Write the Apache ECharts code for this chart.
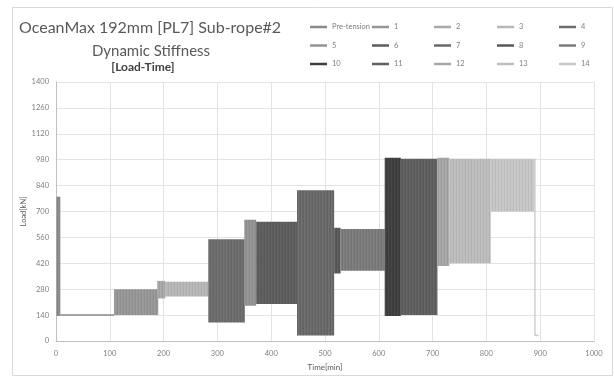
<!DOCTYPE html>
<html>
<head>
<meta charset="utf-8">
<script src="https://cdn.jsdelivr.net/npm/echarts@6/dist/echarts.min.js"></script>
<style>
  html, body { margin: 0; padding: 0; background: #fff; }
  #chart { width: 614px; height: 378px; }
</style>
</head>
<body>
<div id="chart"></div>
<script>
// series names (legend order)
const seriesNames = ['Pre-tension', '1', '2', '3', '4', '5', '6', '7', '8', '9', '10', '11', '12', '13', '14'];

// load blocks: which series, time span [min], load band [kN]
const segSeries = ['Pre-tension', 'Pre-tension', '1', '2', '3', '4', '5', '6', '7', '8', '9', '10', '11', '12', '13', '14', '14', '14'];
const segStart = [1, 8, 108, 188, 203, 283, 350, 372, 448, 517, 529, 611, 641, 709, 731, 808, 889, 890];
const segEnd = [8, 108, 190, 203, 283, 351, 372, 448, 517, 529, 611, 641, 709, 731, 808, 889, 890, 897];
const segMin = [135, 140, 140, 230, 240, 100, 190, 200, 30, 365, 380, 135, 140, 405, 420, 700, 30, 30];
const segMax = [780, 140, 280, 325, 320, 550, 655, 645, 815, 612, 605, 990, 985, 990, 985, 985, 985, 30];

// axis ticks
const xTicks = [0, 100, 200, 300, 400, 500, 600, 700, 800, 900, 1000];
const yTicks = [0, 140, 280, 420, 560, 700, 840, 980, 1120, 1260, 1400];

// grey shades per series
const palette = ['#8a8a8a', '#979797', '#a9a9a9', '#b7b7b7', '#6c6c6c', '#949494', '#5d5d5d', '#696969',
  '#585858', '#7b7b7b', '#3e3e3e', '#5f5f5f', '#a6a6a6', '#bdbdbd', '#c7c7c7'];

// legend is laid out in 5 columns of 3 rows
const legendCols = [
  ['Pre-tension', '5', '10'],
  ['1', '6', '11'],
  ['2', '7', '12'],
  ['3', '8', '13'],
  ['4', '9', '14']
];
const legendLeft = [305, 367, 429, 492, 554];

// fine vertical striation to mimic the dense load cycles
const stripe = document.createElement('canvas');
stripe.width = 3;
stripe.height = 1;
(function () {
  const c = stripe.getContext('2d');
  const cols = ['rgba(0,0,0,0.06)', 'rgba(255,255,255,0.05)', 'rgba(0,0,0,0)'];
  cols.forEach((col, i) => { c.fillStyle = col; c.fillRect(i, 0, 1, 1); });
})();

function renderItem(params, api) {
  const p0 = api.coord([api.value(0), api.value(3)]);
  const p1 = api.coord([api.value(1), api.value(2)]);
  const w = Math.max(p1[0] - p0[0], 1.3);
  const h = Math.max(p1[1] - p0[1], 1.5);
  const shape = { x: p0[0], y: p0[1] - (h < 2 ? 0.75 : 0), width: w, height: h };
  const children = [{ type: 'rect', shape: shape, style: { fill: api.visual('color') } }];
  if (h > 3 && w > 3) {
    children.push({ type: 'rect', shape: shape, style: { fill: { image: stripe, repeat: 'repeat' } } });
  }
  return { type: 'group', children: children };
}

const series = seriesNames.map((name, i) => {
  const data = [];
  for (let k = 0; k < segSeries.length; k++) {
    if (segSeries[k] === name) data.push([segStart[k], segEnd[k], segMin[k], segMax[k]]);
  }
  return {
    name: name,
    type: 'custom',
    renderItem: renderItem,
    encode: { x: [0, 1], y: [2, 3] },
    itemStyle: { color: palette[i] },
    data: data,
    silent: true
  };
});

const font = 'Lato, "Liberation Sans", sans-serif';
const plain = (v) => String(v);

const chart = echarts.init(document.getElementById('chart'), null, { renderer: 'canvas' });
chart.setOption({
  animation: false,
  textStyle: { fontFamily: font },
  title: [
    { text: 'OceanMax 192mm [PL7] Sub-rope#2', left: 14, top: 15,
      textStyle: { fontSize: 16, fontWeight: 'normal', color: '#595959', fontFamily: font } },
    { text: 'Dynamic Stiffness', left: 146, top: 39, textAlign: 'center',
      textStyle: { fontSize: 15, fontWeight: 'normal', color: '#595959', fontFamily: font } },
    { text: '[Load-Time]', left: 138, top: 56, textAlign: 'center',
      textStyle: { fontSize: 12, fontWeight: 'bold', color: '#404040', fontFamily: font } }
  ],
  graphic: [{
    type: 'rect', silent: true,
    shape: { x: 12.5, y: 7.5, width: 600, height: 368 },
    style: { fill: 'none', stroke: '#d9d9d9', lineWidth: 1 }
  }],
  legend: legendCols.map((col, i) => ({
    data: col,
    orient: 'vertical',
    left: legendLeft[i],
    top: 17,
    itemGap: 8.5,
    itemWidth: 17,
    itemHeight: 2.5,
    icon: 'rect',
    selectedMode: false,
    textStyle: { fontSize: 7.5, lineHeight: 10, color: '#7f7f7f', fontFamily: font }
  })),
  grid: { left: 56, right: 20, top: 82, bottom: 37 },
  xAxis: {
    type: 'value',
    min: xTicks[0],
    max: xTicks[xTicks.length - 1],
    interval: xTicks[1] - xTicks[0],
    name: 'Time[min]',
    nameLocation: 'middle',
    nameGap: 22,
    nameTextStyle: { fontSize: 8, color: '#595959' },
    axisLine: { lineStyle: { color: '#bfbfbf' } },
    axisTick: { show: false },
    axisLabel: { fontSize: 7.5, color: '#7f7f7f', margin: 9, formatter: plain },
    splitLine: { show: true, lineStyle: { color: '#e3e3e3' } }
  },
  yAxis: {
    type: 'value',
    min: yTicks[0],
    max: yTicks[yTicks.length - 1],
    interval: yTicks[1] - yTicks[0],
    name: 'Load[kN]',
    nameLocation: 'middle',
    nameGap: 28,
    nameMoveOverlap: false,
    nameTextStyle: { fontSize: 7.5, color: '#595959' },
    axisLine: { show: true, lineStyle: { color: '#bfbfbf' } },
    axisTick: { show: false },
    axisLabel: { fontSize: 7.5, color: '#7f7f7f', margin: 7, formatter: plain },
    splitLine: { show: true, lineStyle: { color: '#e3e3e3' } }
  },
  series: series
});
</script>
</body>
</html>
